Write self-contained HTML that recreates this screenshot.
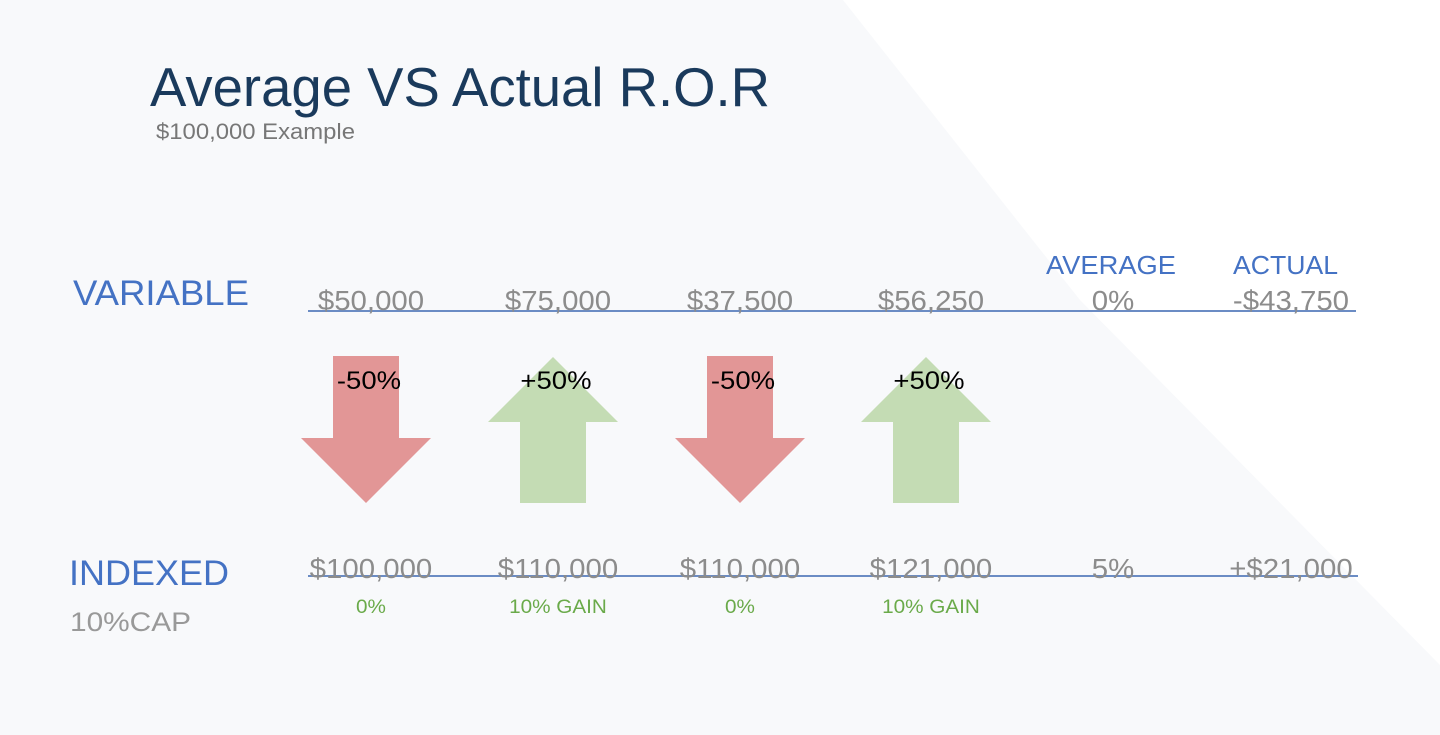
<!DOCTYPE html>
<html><head><meta charset="utf-8"><style>
body{margin:0;width:1440px;height:735px;overflow:hidden;font-family:"Liberation Sans",sans-serif;background:#f8f9fb}
svg{position:absolute;left:0;top:0}
</style></head><body>
<svg width="1440" height="735">
<polygon points="843,0 1440,0 1440,665 1080,300" fill="#ffffff"/>
<text x="150" y="106" font-size="55" fill="#1a3a5c" textLength="620" lengthAdjust="spacingAndGlyphs">Average VS Actual R.O.R</text>
<text x="156" y="139" font-size="22" fill="#777" textLength="199" lengthAdjust="spacingAndGlyphs">$100,000 Example</text>
<text x="73" y="305" font-size="35" fill="#4472c4" textLength="176" lengthAdjust="spacingAndGlyphs">VARIABLE</text>
<text x="69" y="585" font-size="35" fill="#4472c4" textLength="160" lengthAdjust="spacingAndGlyphs">INDEXED</text>
<text x="70" y="631" font-size="27" fill="#999" textLength="121" lengthAdjust="spacingAndGlyphs">10%CAP</text>
<text x="1046" y="274" font-size="26" fill="#4472c4" textLength="130" lengthAdjust="spacingAndGlyphs">AVERAGE</text>
<text x="1233" y="274" font-size="26" fill="#4472c4" textLength="105" lengthAdjust="spacingAndGlyphs">ACTUAL</text>
<line x1="308" y1="311" x2="1356" y2="311" stroke="#6b8cc4" stroke-width="2"/>
<line x1="308" y1="576" x2="1358" y2="576" stroke="#6b8cc4" stroke-width="2"/>
<g id="cells"></g>
</svg>
<script>
const columns=["Y1","Y2","Y3","Y4","Average","Actual"];
const variableValues=["$50,000","$75,000","$37,500","$56,250","0%","-$43,750"];
const indexedValues=["$100,000","$110,000","$110,000","$121,000","5%","+$21,000"];
const indexedNotes=["0%","10% GAIN","0%","10% GAIN","",""];
const returns=[-50,50,-50,50];
const centers=[371,558,740,931,1113,1291];
const arrowCenters=[366,553,740,926];
const NS="http://www.w3.org/2000/svg";
const g=document.getElementById('cells');
function t(x,y,s,size,fill,name,scale,weight){const e=document.createElementNS(NS,'text');e.setAttribute('x',x);e.setAttribute('y',y);e.setAttribute('font-size',size);e.setAttribute('fill',fill);e.setAttribute('text-anchor','middle');if(weight)e.setAttribute('font-weight',weight);e.textContent=s;


g.appendChild(e);
const w=e.getComputedTextLength();
if(w>0){e.setAttribute('textLength',(w*scale).toFixed(1));e.setAttribute('lengthAdjust','spacingAndGlyphs');}
return e;}
columns.forEach((c,i)=>{
 t(centers[i],310,variableValues[i],28,"#8c8c8c","variable-value",1.05);
 t(centers[i],578,indexedValues[i],28,"#8c8c8c","indexed-value",1.05);
 if(indexedNotes[i])t(centers[i],613,indexedNotes[i],19,"#6aaa4a","indexed-note",1.09);
});
returns.forEach((r,i)=>{
 const cx=arrowCenters[i],p=document.createElementNS(NS,'polygon');
 let pts;
 if(r<0)pts=[[cx-33,356],[cx+33,356],[cx+33,438],[cx+65,438],[cx,503],[cx-65,438],[cx-33,438]];
 else pts=[[cx,357],[cx+65,422],[cx+33,422],[cx+33,503],[cx-33,503],[cx-33,422],[cx-65,422]];
 p.setAttribute('points',pts.map(a=>a.join(',')).join(' '));
 p.setAttribute('fill',r<0?'#e29696':'#c4dcb4');
 
 
 g.appendChild(p);
 t(cx+3,389,(r>0?'+':'')+r+'%',25,"#000","return-label",1.1);
});
</script>
</body></html>
